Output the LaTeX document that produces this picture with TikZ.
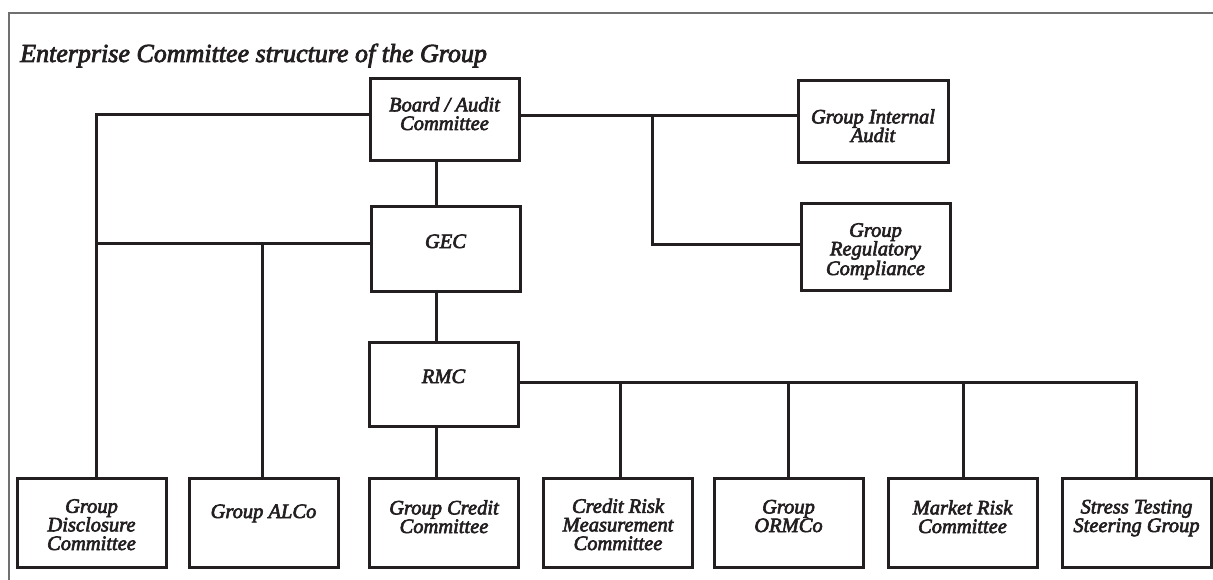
\documentclass[tikz,border=0pt]{standalone}
\usepackage{fontspec}
\newfontfamily\gi{Liberation Serif Italic}[FakeBold=3]
\definecolor{ink}{HTML}{231F20}
\definecolor{framegray}{HTML}{707070}
\begin{document}
\begin{tikzpicture}[x=1pt,y=-1pt,
  box/.style={draw=ink,line width=3pt,minimum width=149pt,inner sep=0pt},
  txt/.style={anchor=base,align=center,text=ink,font=\fontsize{20.5}{18.6}\selectfont\gi,inner sep=0pt},
  wire/.style={draw=ink,line width=3pt},
  frame/.style={draw=framegray,line width=1.8pt}]
\useasboundingbox (0,0) rectangle (1213,580);
% frame
\coordinate (fbl) at (9,580);
\coordinate (ftl) at (9,13);
\coordinate (ftr) at (1213,13);
\draw[frame] (fbl) -- (ftl) -- (ftr);
% title
\node[anchor=base west,inner sep=0pt,text=ink,font=\fontsize{26}{28}\selectfont\gi] (title) at (20,62) {Enterprise Committee structure of the Group};
% upper boxes
\node[box,minimum height=82pt] (board) at (444.5,120) {};
\node[box,minimum height=84pt] (gec) at (445.5,249) {};
\node[box,minimum height=84pt] (rmc) at (443.5,384) {};
\node[box,minimum height=82pt,minimum width=150pt] (ia) at (873,122) {};
\node[box,minimum height=86pt] (reg) at (875.5,247) {};
% bottom boxes
\foreach \n/\x in {disc/91.5, alco/263.5, gcc/444, crm/618, orm/788.5, mrc/962.5, stg/1136.5}
  \node[box,minimum height=89pt] (\n) at (\x,522.5) {};
% texts (positioned at the baseline of the last line)
\node[txt] (boardT) at (444.5,130) {Board / Audit\\Committee};
\node[txt] (gecT) at (445.5,248) {GEC};
\node[txt] (rmcT) at (443.5,383) {RMC};
\node[txt] (iaT) at (873,142) {Group Internal\\Audit};
\node[txt] (regT) at (875.5,275) {Group\\Regulatory\\Compliance};
\node[txt] (discT) at (91.5,550) {Group\\Disclosure\\Committee};
\node[txt] (alcoT) at (263.5,518) {Group ALCo};
\node[txt] (gccT) at (444,533) {Group Credit\\Committee};
\node[txt] (crmT) at (618,550) {Credit Risk\\Measurement\\Committee};
\node[txt] (ormT) at (788.5,532) {Group\\ORMCo};
\node[txt] (mrcT) at (962.5,533) {Market Risk\\Committee};
\node[txt] (stgT) at (1136.5,532) {Stress Testing\\Steering Group};
% junction coordinates
\coordinate (jDisc) at (96,115);
\coordinate (jDiscG) at (96,244);
\coordinate (jAlco) at (262,244);
\coordinate (jReg) at (652,116);
\coordinate (jRegB) at (652,245);
\coordinate (jStg) at (1136,382);
% connectors
\draw[wire] (board.west |- jDisc) -- (jDisc) -- (jDisc |- disc.north);
\draw[wire] (gec.west |- jDiscG) -- (jDiscG);
\draw[wire] (jAlco) -- (jAlco |- alco.north);
\draw[wire] (board.south -| 436,0) -- (gec.north -| 436,0);
\draw[wire] (gec.south -| 436,0) -- (rmc.north -| 436,0);
\draw[wire] (rmc.south -| 436,0) -- (gcc.north -| 436,0);
\draw[wire] (board.east |- jReg) -- (ia.west |- jReg);
\draw[wire] (jReg) -- (jRegB) -- (reg.west |- jRegB);
\draw[wire] (rmc.east |- jStg) -- (jStg) -- (jStg |- stg.north);
\foreach \n/\x in {crm/620, orm/788, mrc/963}
  \draw[wire] (\x,382) -- (\n.north -| \x,0);
\end{tikzpicture}
\end{document}
